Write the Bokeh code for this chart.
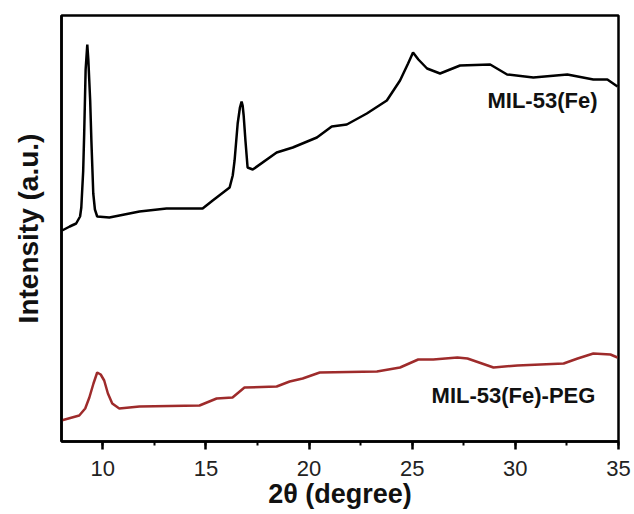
from bokeh.plotting import figure
from bokeh.models import Range1d, SingleIntervalTicker, FixedTicker, Label
from bokeh.embed import file_html
from bokeh.resources import INLINE

# MIL-53(Fe) pattern (2theta in degree, intensity a.u.)
fe_theta = [8.03, 8.40, 8.71, 8.90, 8.96, 9.05, 9.10, 9.17, 9.25, 9.30, 9.39, 9.45, 9.54, 9.62, 9.73,
            10.32, 11.78, 13.09, 14.84, 15.33, 16.15, 16.30, 16.39, 16.54, 16.65, 16.73,
            16.78, 16.83, 16.92, 17.02, 17.27, 18.43, 19.21, 20.38, 21.10, 21.83, 22.80,
            23.77, 24.41, 24.80, 25.04, 25.30, 25.72, 26.35, 27.32, 28.78, 29.60, 30.87,
            32.52, 33.78, 34.46, 34.95]
fe_int = [211, 215, 218, 225, 234, 270, 308, 372, 397, 382, 341, 300, 248, 232, 225,
          224, 230, 233, 233, 241, 254, 266, 281, 318, 334, 340,
          336, 326, 300, 274, 272, 289, 294, 304, 315, 317, 328,
          341, 361, 378, 389, 382, 373, 368, 376, 377, 367, 364,
          367, 362, 362, 355]

# MIL-53(Fe)-PEG pattern
peg_theta = [7.99, 8.86, 9.15, 9.35, 9.55, 9.73, 9.90, 10.07, 10.25, 10.46, 10.80, 11.78, 14.69, 15.52,
             16.29, 16.87, 18.43, 19.06, 19.69, 20.38, 20.52, 23.29, 24.41, 25.29, 26.02,
             27.19, 27.68, 28.94, 30.10, 32.34, 33.02, 33.78, 34.61, 34.95]
peg_int = [21, 26, 33, 44, 58, 69, 67, 61, 48, 38, 33, 35, 36, 43,
           44, 54, 55, 60, 63, 68, 69, 70, 74, 82, 82,
           84, 83, 74, 76, 78, 83, 88, 87, 84]

x_ticks_interval = 5
labels = ["MIL-53(Fe)", "MIL-53(Fe)-PEG"]
label_x = [33.98, 33.88]
label_y = [341, 46]

FONT = "Liberation Sans"

p = figure(width=634, height=514, output_backend="svg", toolbar_location=None,
           x_range=Range1d(8, 35), y_range=Range1d(0, 426),
           min_border_left=61, min_border_right=16, min_border_top=15, min_border_bottom=73)
p.background_fill_color = "white"
p.border_fill_color = "white"
p.grid.visible = False
p.outline_line_color = "black"
p.outline_line_width = 2.5

p.line(fe_theta, fe_int, line_color="black", line_width=2.5)
p.line(peg_theta, peg_int, line_color="#9e2b2b", line_width=2.5)

for t, xx, yy in zip(labels, label_x, label_y):
    p.add_layout(Label(x=xx, y=yy, text=t, text_align="right", text_baseline="middle",
                       text_font=FONT, text_font_style="bold", text_font_size="22px",
                       text_color="#111111"))

xa = p.xaxis[0]
xa.ticker = SingleIntervalTicker(interval=x_ticks_interval, num_minor_ticks=2)
xa.axis_label = "2θ (degree)"
xa.axis_label_text_font = FONT
xa.axis_label_text_font_style = "bold"
xa.axis_label_text_font_size = "27px"
xa.axis_label_text_color = "#111111"
xa.axis_label_standoff = 0
xa.major_label_text_font = FONT
xa.major_label_text_font_size = "22px"
xa.major_label_text_color = "#222222"
xa.major_label_standoff = 11
xa.axis_line_width = 2.5
xa.major_tick_line_width = 2.5
xa.minor_tick_line_width = 2
xa.major_tick_in = 0
xa.major_tick_out = 8
xa.minor_tick_in = 0
xa.minor_tick_out = 4

ya = p.yaxis[0]
ya.ticker = FixedTicker(ticks=[])
ya.axis_label = "Intensity (a.u.)"
ya.axis_label_text_font = FONT
ya.axis_label_text_font_style = "bold"
ya.axis_label_text_font_size = "28px"
ya.axis_label_text_color = "#111111"
ya.axis_label_standoff = 18
ya.major_tick_line_color = None
ya.minor_tick_line_color = None
ya.axis_line_width = 2.5

open("out.html", "w").write(file_html(p, INLINE))
